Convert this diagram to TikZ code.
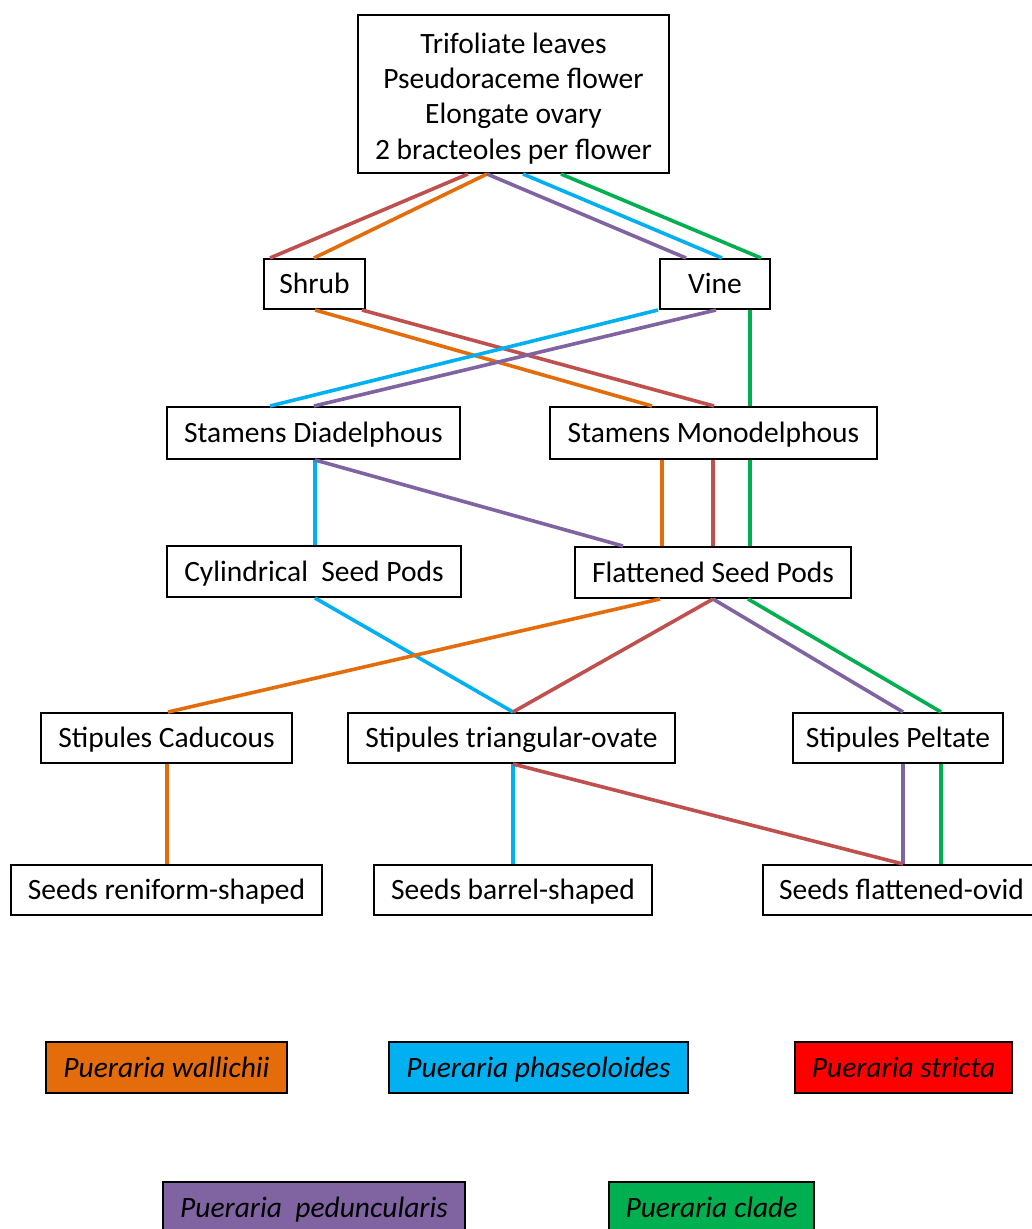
\documentclass[tikz,border=0pt]{standalone}
\usepackage{fontspec}
\setmainfont{Carlito}
\definecolor{lred}{HTML}{C0504D}
\definecolor{lorange}{HTML}{E46C0A}
\definecolor{lpurple}{HTML}{8064A2}
\definecolor{lblue}{HTML}{00B0F0}
\definecolor{lgreen}{HTML}{00B050}
\definecolor{fred}{HTML}{FF0000}
\begin{document}
\begin{tikzpicture}[x=1pt,y=-1pt,
  bigbox/.style={draw=black,line width=2pt,fill=white,inner sep=0pt,align=center,
    font=\fontsize{29.5}{35.3}\selectfont},
  box/.style={draw=black,line width=2pt,fill=white,inner sep=0pt,
    text height=24pt,text depth=4.5pt,
    font=\fontsize{29.5}{35.3}\selectfont},
  legbox/.style={draw=black,line width=2pt,inner sep=0pt,minimum height=51pt,
    text height=24pt,text depth=5pt,
    font=\fontsize{29.5}{35.3}\selectfont\itshape},
  link/.style={line width=3.6pt}]
\useasboundingbox (0,0) rectangle (1032,1229);
% nodes
\node[bigbox,minimum width=311pt,minimum height=158pt] (top) at (513.5,94)
  {\rule{0pt}{29pt}Trifoliate leaves\\Pseudoraceme flower\\Elongate ovary\\2 bracteoles per flower};
\node[box,minimum width=101pt,minimum height=50pt] (shrub) at (314.5,284) {Shrub};
\node[box,minimum width=110pt,minimum height=50pt] (vine) at (715,284) {Vine};
\node[box,minimum width=293pt,minimum height=52pt] (dia) at (313.5,433) {Stamens Diadelphous};
\node[box,minimum width=327pt,minimum height=52pt] (mono) at (713.5,433) {Stamens Monodelphous};
\node[box,minimum width=294pt,minimum height=51pt] (cyl) at (314,571.5) {Cylindrical\ \ Seed Pods};
\node[box,minimum width=276pt,minimum height=51pt] (flat) at (713,572.5) {Flattened Seed Pods};
\node[box,minimum width=251pt,minimum height=50pt] (cad) at (166.5,738) {Stipules Caducous};
\node[box,minimum width=327pt,minimum height=50pt] (tri) at (511.5,738) {Stipules triangular-ovate};
\node[box,minimum width=210pt,minimum height=50pt] (pel) at (898,738) {Stipules Peltate};
\node[box,minimum width=311pt,minimum height=50pt] (ren) at (166.5,890) {Seeds reniform-shaped};
\node[box,minimum width=278pt,minimum height=50pt] (bar) at (513,890) {Seeds barrel-shaped};
\node[box,minimum width=277pt,minimum height=50pt] (ovid) at (901.5,890) {Seeds flattened-ovid};
% connectors
\begin{scope}[link]
\draw[lred]    ([xshift=-45.5pt]top.south) -- ([xshift=-44.5pt]shrub.north);
\draw[lorange] ([xshift=-26.5pt]top.south) -- ([xshift=-0.5pt]shrub.north);
\draw[lpurple] ([xshift=-26.5pt]top.south) -- ([xshift=-29pt]vine.north);
\draw[lblue]   ([xshift=9.5pt]top.south) -- ([xshift=7pt]vine.north);
\draw[lgreen]  ([xshift=47.5pt]top.south) -- ([xshift=46pt]vine.north);
\draw[lorange] ([xshift=0.5pt]shrub.south) -- ([xshift=-61.5pt]mono.north);
\draw[lred]    ([xshift=47.5pt]shrub.south) -- ([xshift=0.5pt]mono.north);
\draw[lblue]   ([xshift=-57pt]vine.south) -- ([xshift=-43.5pt]dia.north);
\draw[lpurple] ([xshift=1pt]vine.south) -- ([xshift=0.5pt]dia.north);
\draw[lgreen]  ([xshift=35pt]vine.south) -- ([xshift=36.5pt]mono.north);
\draw[lblue]   ([xshift=1.5pt]dia.south) -- ([xshift=1pt]cyl.north);
\draw[lpurple] ([xshift=1.5pt]dia.south) -- ([xshift=-90pt]flat.north);
\draw[lorange] ([xshift=-51.5pt]mono.south) -- ([xshift=-51pt]flat.north);
\draw[lred]    ([xshift=-0.5pt]mono.south) -- ([xshift=0pt]flat.north);
\draw[lgreen]  ([xshift=36.5pt]mono.south) -- ([xshift=37pt]flat.north);
\draw[lblue]   ([xshift=1pt]cyl.south) -- ([xshift=1.5pt]tri.north);
\draw[lorange] ([xshift=-53pt]flat.south) -- ([xshift=1.5pt]cad.north);
\draw[lred]    ([xshift=0pt]flat.south) -- ([xshift=1.5pt]tri.north);
\draw[lpurple] ([xshift=0pt]flat.south) -- ([xshift=5pt]pel.north);
\draw[lgreen]  ([xshift=35pt]flat.south) -- ([xshift=43pt]pel.north);
\draw[lorange] ([xshift=0.5pt]cad.south) -- ([xshift=0.5pt]ren.north);
\draw[lblue]   ([xshift=1.5pt]tri.south) -- ([xshift=0pt]bar.north);
\draw[lred]    ([xshift=1.5pt]tri.south) -- ([xshift=1.5pt]ovid.north);
\draw[lpurple] ([xshift=5pt]pel.south) -- ([xshift=1.5pt]ovid.north);
\draw[lgreen]  ([xshift=43pt]pel.south) -- ([xshift=39.5pt]ovid.north);
\end{scope}
% legend
\node[legbox,fill=lorange,minimum width=241pt] (lw) at (166.5,1067.5) {Pueraria wallichii};
\node[legbox,fill=lblue,minimum width=299pt] (lph) at (538.5,1067.5) {Pueraria phaseoloides};
\node[legbox,fill=fred,minimum width=217pt] (lst) at (903.5,1067.5) {Pueraria stricta};
\node[legbox,fill=lpurple,minimum width=302pt] (lpe) at (314,1207.5) {Pueraria\ \ peduncularis};
\node[legbox,fill=lgreen,minimum width=205pt] (lcl) at (711.5,1207.5) {Pueraria clade};
\end{tikzpicture}
\end{document}
